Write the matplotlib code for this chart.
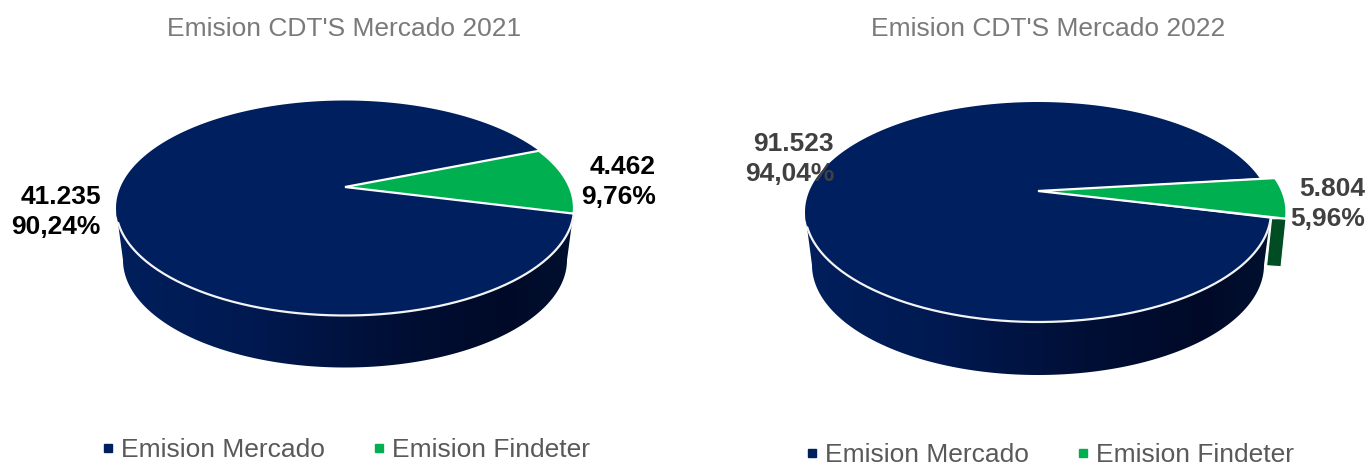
import numpy as np
from matplotlib import pyplot as plt
from matplotlib.lines import Line2D
from matplotlib.patches import Polygon
from matplotlib.colors import LinearSegmentedColormap

plt.rcParams['font.family'] = ['Liberation Sans', 'DejaVu Sans']

# data
categories = ['Emision Mercado', 'Emision Findeter']
values_2021 = [41235, 4462]
values_2022 = [91523, 5804]
labels_2021 = ['41.235\n90,24%', '4.462\n9,76%']
labels_2022 = ['91.523\n94,04%', '5.804\n5,96%']
titles = ["Emision CDT'S Mercado 2021", "Emision CDT'S Mercado 2022"]

navy = '#001f5f'
green = '#00b050'
dark_green = '#004d23'
side_cmap = LinearSegmentedColormap.from_list(
    'side', [(0, '#001f5c'), (0.3, '#001950'), (0.6, '#000f36'), (0.85, '#000a28'), (1, '#00102f')])


def arc(cx, cy, rx, ry, a0, a1, n=200):
    t = np.radians(np.linspace(a0, a1, n))
    return np.column_stack([cx + rx * np.cos(t), cy - ry * np.sin(t)])


def draw_pie(ax, values, labels, title, cx, cy, rx, ry, apex_y, depth, shrink, start, explode,
             label_pos, label_color, title_x, title_y, legend_x, legend_y):
    share = values[1] / sum(values)
    end = start + share * 360

    # side of the cylinder
    top = arc(cx, cy, rx, ry, 180, 360)
    bottom = arc(cx, cy + depth, rx - shrink, ry, 360, 180)
    side = Polygon(np.vstack([top, bottom]), closed=True, facecolor='none', edgecolor='none')
    ax.add_patch(side)
    grad = np.linspace(0, 1, 256).reshape(1, -1)
    im = ax.imshow(grad, cmap=side_cmap, aspect='auto', zorder=1,
                   extent=[cx - rx, cx + rx, cy + depth + ry + 5, cy])
    im.set_clip_path(side)

    # exploded slice side
    if explode > 0:
        p0 = arc(cx, cy, rx, ry, start, start, 1)[0]
        ax.add_patch(Polygon([[p0[0] + 1, p0[1]], [p0[0] + explode, p0[1]],
                              [p0[0] + explode - 5, p0[1] + depth - 5],
                              [p0[0] - 4, p0[1] + depth - 6]],
                             closed=True, facecolor=dark_green, edgecolor='white', lw=0.8, zorder=2))

    # top faces
    apex = [cx, apex_y]
    main = np.vstack([[apex], arc(cx, cy, rx, ry, end, start + 360)])
    ax.add_patch(Polygon(main, closed=True, facecolor=navy, edgecolor='none', zorder=3))
    ring = arc(cx, cy, rx, ry, 188, start + 360)
    ax.plot(ring[:, 0], ring[:, 1], color='#f4f4f4', lw=1.6, zorder=4, solid_capstyle='round')

    piece = arc(cx, cy, rx, ry, start, end) + [explode, 0]
    wedge = np.vstack([[apex], piece])
    ax.add_patch(Polygon(wedge, closed=True, facecolor=green, edgecolor='white', lw=1.6,
                         joinstyle='miter', zorder=5))

    # labels
    for label, (x, y) in zip(labels, label_pos):
        ax.text(x, y, label, ha='right', va='center', multialignment='right', fontsize=19,
                fontweight='bold', color=label_color, linespacing=1.3, zorder=6)

    ax.text(title_x, title_y, title, ha='center', va='center', fontsize=19, color='#7a7a7a')

    handles = [Line2D([], [], ls='none', marker='s', ms=5.5, color=c) for c in (navy, green)]
    ax.legend(handles, categories, ncol=2, frameon=False, loc='center',
              bbox_to_anchor=(legend_x, legend_y), bbox_transform=ax.transData,
              fontsize=19, labelcolor='#595959', handletextpad=0.02, columnspacing=1.63,
              handlelength=0.9, borderpad=0, borderaxespad=0)


fig = plt.figure(figsize=(13.66, 4.66), dpi=100)

ax1 = fig.add_axes([0, 0, 0.5, 1])
draw_pie(ax1, values_2021, labels_2021, titles[0], 345, 208, 229, 107.5, 187, 52, 7, -3, 0,
         [(101, 212), (656, 182)], 'black', 344, 29, 343, 450)
ax1.set_xlim(0, 683)
ax1.set_ylim(466, 0)
ax1.axis('off')

ax2 = fig.add_axes([0.5, 0, 0.5, 1])
draw_pie(ax2, values_2022, labels_2022, titles[1], 1038, 212, 233, 110, 191, 53, 7, -3.5, 15.5,
         [(834, 159), (1365, 204)], '#404040', 1048, 29, 1047, 455)
ax2.set_xlim(683, 1366)
ax2.set_ylim(466, 0)
ax2.axis('off')

plt.savefig('out.png', dpi=100)
